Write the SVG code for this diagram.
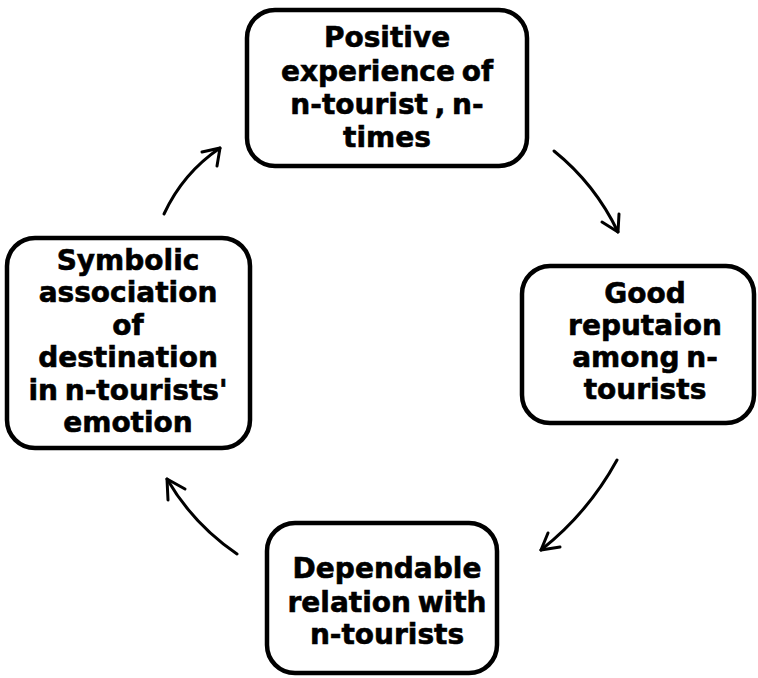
<svg xmlns="http://www.w3.org/2000/svg" width="758" height="678" viewBox="0 0 758 678">
<style>
.box{fill:#fff;stroke:#000;stroke-width:4.5}
.lbl{font-family:"DejaVu Sans",Verdana,sans-serif;font-weight:bold;font-size:28px;fill:#000;stroke:#000;stroke-width:0.6;text-anchor:middle;word-spacing:-3px}
.arr{fill:none;stroke:#000;stroke-width:3;stroke-linecap:round;stroke-linejoin:round}
</style>
<rect width="758" height="678" fill="#fff"/>
<g id="connectors">
<path class="arr" d="M164,214 Q183,173 220,148"/>
<path class="arr" d="M202,152 L220,148 L217,166"/>
<path class="arr" d="M554,151 Q595,184 618,232"/>
<path class="arr" d="M602,222 L618,232 L619,214"/>
<path class="arr" d="M617,460 Q588,513 541,550"/>
<path class="arr" d="M548,533 L541,550 L560,547"/>
<path class="arr" d="M237,554 Q193,524 167,479"/>
<path class="arr" d="M185,489 L167,479 L168,500"/>
</g>
<g id="node-positive">
<rect class="box" x="247" y="10" width="280" height="156" rx="28"/>
<text class="lbl"><tspan x="387" y="47">Positive</tspan><tspan x="387" y="81">experience of</tspan><tspan x="387" y="114">n-tourist , n-</tspan><tspan x="387" y="147">times</tspan></text>
</g>
<g id="node-reputation">
<rect class="box" x="522" y="266" width="232" height="157" rx="28"/>
<text class="lbl"><tspan x="645" y="303">Good</tspan><tspan x="645" y="335">reputaion</tspan><tspan x="645" y="367">among n-</tspan><tspan x="645" y="399">tourists</tspan></text>
</g>
<g id="node-dependable">
<rect class="box" x="267" y="523" width="230" height="150" rx="28"/>
<text class="lbl"><tspan x="387" y="578">Dependable</tspan><tspan x="387" y="612">relation with</tspan><tspan x="387" y="644">n-tourists</tspan></text>
</g>
<g id="node-symbolic">
<rect class="box" x="7" y="238" width="243" height="210" rx="28"/>
<text class="lbl"><tspan x="128" y="270">Symbolic</tspan><tspan x="128" y="302">association</tspan><tspan x="128" y="335">of</tspan><tspan x="128" y="367">destination</tspan><tspan x="128" y="400">in n-tourists'</tspan><tspan x="128" y="432">emotion</tspan></text>
</g>
</svg>
